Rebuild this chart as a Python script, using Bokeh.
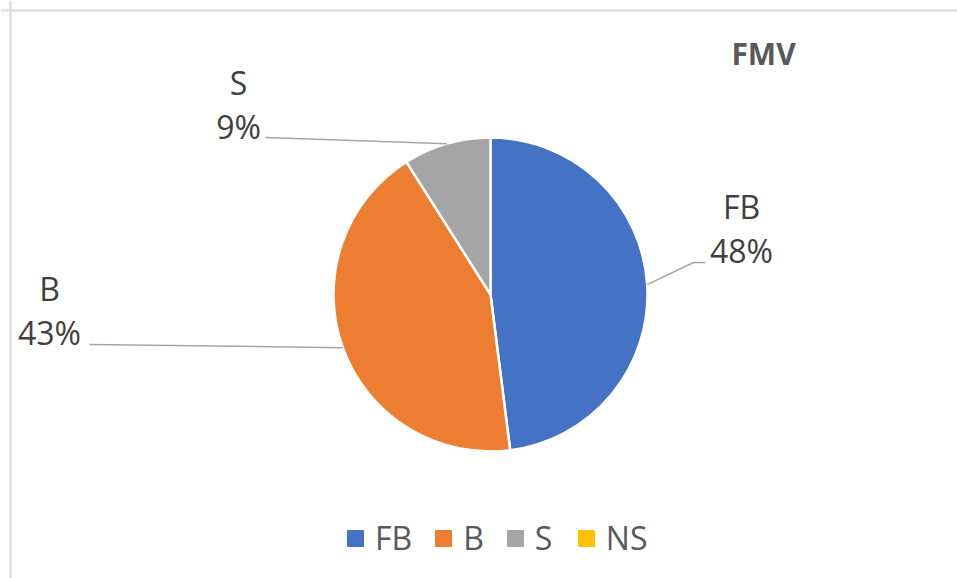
import math
from bokeh.plotting import figure
from bokeh.models import Range1d, Span, Legend, LegendItem, ColumnDataSource
from bokeh.core.properties import value
from bokeh.embed import file_html
from bokeh.resources import INLINE

# ---- data ----
categories = ["FB", "B", "S", "NS"]
shares = [48, 43, 9, 0]
colors = ["#4472C4", "#ED7D31", "#A5A5A5", "#FFC000"]
title_text = "FMV"

# ---- layout (screen pixels of the page) ----
W, H = 957, 578
def dx(sx):
    return sx
def dy(sy):
    return H - sy

CX, CY, R = dx(490), dy(294), 157
label_pos = {"FB": (741, 206), "B": (49, 288), "S": (238, 82)}
pct_offset = 44
leader_anchor = {"FB": [(693, 262), (705, 262)], "B": [(89, 344)], "S": [(265, 137)]}
FONT = "Open Sans"
TEXT_COLOR = "#404040"

p = figure(width=W, height=H, output_backend="svg", toolbar_location=None,
           x_range=Range1d(0, W), y_range=Range1d(0, H),
           x_axis_type=None, y_axis_type=None, min_border=0)
p.outline_line_color = None
p.grid.visible = False
p.background_fill_color = "white"

# border (top & left visible part of chart frame)
p.add_layout(Span(location=dx(10), dimension="height", line_color="#D9D9D9", line_width=2))
p.add_layout(Span(location=dy(10), dimension="width", line_color="#D9D9D9", line_width=2))

total = float(sum(shares))
starts, ends, mids = [], [], []
cum = 0.0
for v in shares:
    a0 = math.pi / 2 - 2 * math.pi * cum / total
    a1 = math.pi / 2 - 2 * math.pi * (cum + v) / total
    starts.append(a0)
    ends.append(a1)
    mids.append((a0 + a1) / 2)
    cum += v

idx = [i for i, v in enumerate(shares) if v > 0]
src = ColumnDataSource(dict(
    cat=[categories[i] for i in idx],
    start=[starts[i] for i in idx],
    end=[ends[i] for i in idx],
    color=[colors[i] for i in idx],
))
p.wedge(x=CX, y=CY, radius=R, start_angle="start", end_angle="end", direction="clock",
        fill_color="color", line_color="white", line_width=2.5, source=src)

# leader lines and labels
lx, ly = [], []
names_x, names_y, names_t = [], [], []
pct_x, pct_y, pct_t = [], [], []
for i in idx:
    c = categories[i]
    ex = CX + R * math.cos(mids[i])
    ey = CY + R * math.sin(mids[i])
    xs = [ex] + [dx(a[0]) for a in leader_anchor[c]]
    ys = [ey] + [dy(a[1]) for a in leader_anchor[c]]
    lx.append(xs)
    ly.append(ys)
    sx, sy = label_pos[c]
    names_x.append(dx(sx)); names_y.append(dy(sy)); names_t.append(c)
    pct_x.append(dx(sx)); pct_y.append(dy(sy + pct_offset)); pct_t.append(f"{shares[i]}%")

p.multi_line(xs=lx, ys=ly, line_color="#A6A6A6", line_width=1.5)
p.text(x=names_x, y=names_y, text=names_t, text_font=value(FONT), text_font_size="32px",
       text_color=TEXT_COLOR, text_align="center", text_baseline="middle")
p.text(x=pct_x, y=pct_y, text=pct_t, text_font=value(FONT), text_font_size="32px",
       text_color=TEXT_COLOR, text_align="center", text_baseline="middle")

# title
p.text(x=[dx(763)], y=[dy(53)], text=[title_text], text_font=value(FONT),
       text_font_size="30px", text_font_style="bold", text_color="#595959",
       text_align="center", text_baseline="middle")

# legend (proxy renderer holding all categories)
leg_src = ColumnDataSource(dict(x=[CX] * len(categories), y=[CY] * len(categories),
                                color=colors, cat=categories))
proxy = p.rect(x="x", y="y", width=1, height=1, fill_color="color", line_color="color",
               source=leg_src)
proxy.visible = False
items = [LegendItem(label=c, renderers=[proxy], index=i) for i, c in enumerate(categories)]
legend = Legend(items=items, orientation="horizontal", location=(345, 19),
                glyph_width=20, glyph_height=20, label_standoff=10, spacing=21,
                padding=0, margin=0, border_line_color=None, background_fill_alpha=0,
                label_text_font=FONT, label_text_font_size="32px", label_text_color="#595959")
p.add_layout(legend, "center")

open("out.html", "w").write(file_html(p, INLINE))
